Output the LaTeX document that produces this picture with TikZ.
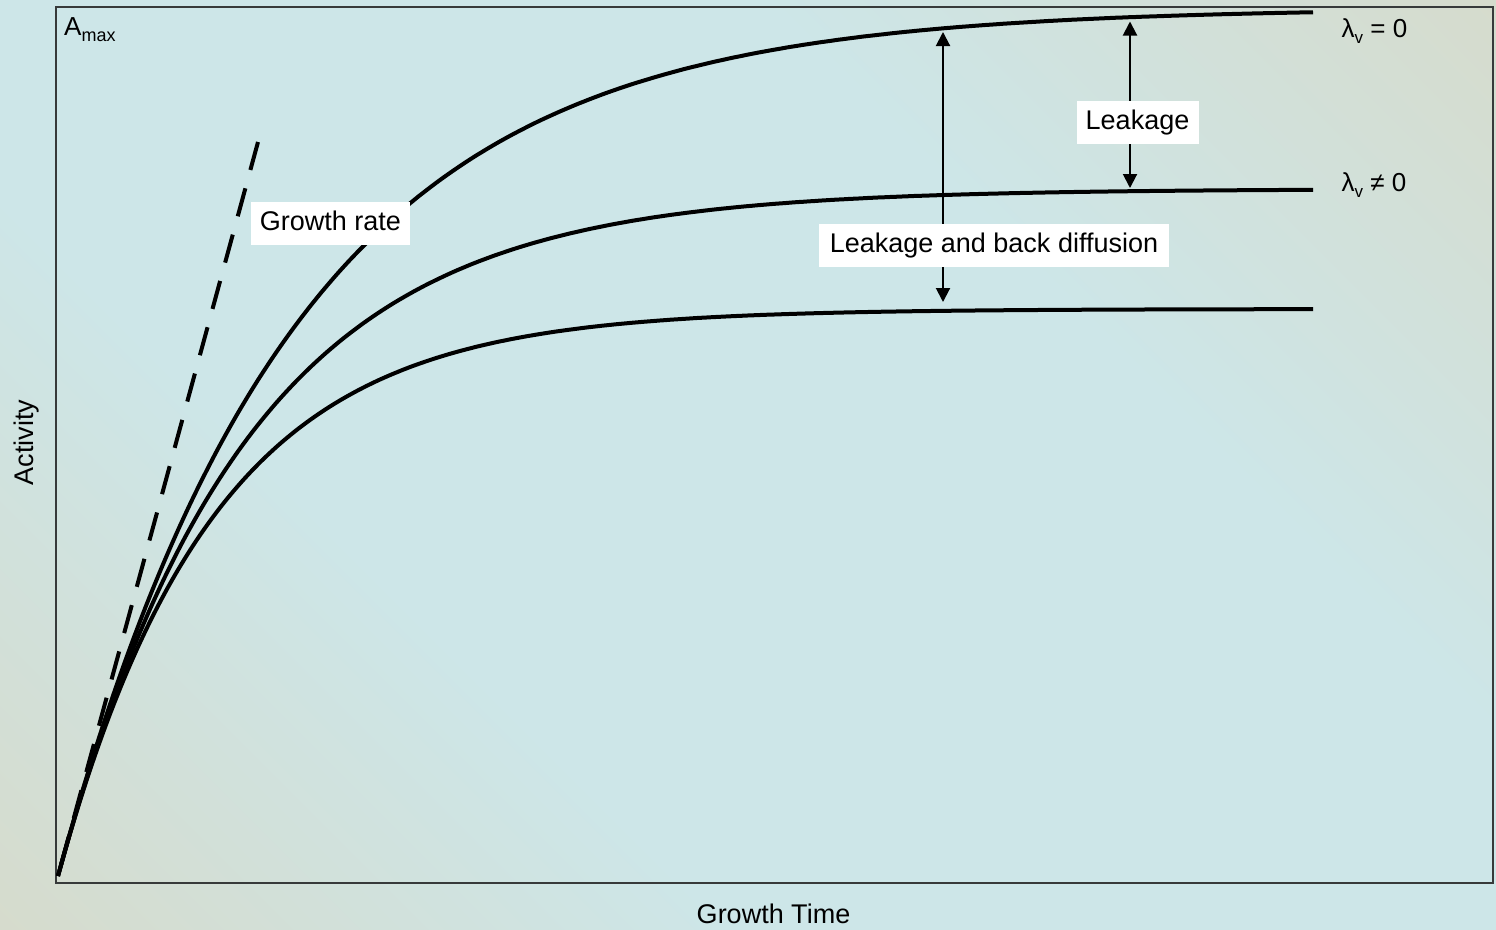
\documentclass[tikz,border=0pt]{standalone}
\usepackage{fontspec}
\setmainfont{Liberation Sans}
\usetikzlibrary{arrows.meta}
\definecolor{bgcyan}{RGB}{205,230,232}
\definecolor{bgbeige}{RGB}{214,219,204}
\definecolor{framegray}{RGB}{55,58,58}
\pgfdeclareverticalshading{bgshade}{100bp}{color(0bp)=(bgbeige); color(14bp)=(bgbeige); color(36bp)=(bgcyan); color(64bp)=(bgcyan); color(86bp)=(bgbeige); color(100bp)=(bgbeige)}
\tikzset{
  txt/.style={font=\fontsize{27}{32}\selectfont, inner sep=0pt},
  labelbox/.style={fill=white, font=\fontsize{27}{32}\selectfont, inner xsep=9pt, inner ysep=8.25pt, text height=20pt, text depth=6.5pt},
  curve/.style={line width=4pt, line cap=butt, line join=round},
  guideline/.style={line width=4pt, dash pattern=on 29pt off 19pt},
  dimarrow/.style={line width=2pt, {Triangle[width=14pt,length=14pt]}-{Triangle[width=14pt,length=14pt]}},
  lamlabel/.style={anchor=base west, inner sep=0pt, font=\fontsize{26}{30}\selectfont}
}
\begin{document}
\begin{tikzpicture}[x=1pt,y=-1pt]
\useasboundingbox (0,0) rectangle (1496,929);
\shade[shading=bgshade, shading angle=-45] (0,0) rectangle (1496,929);
% plot frame
\draw[framegray, line width=2pt] (56,7) rectangle (1492.5,882.5);
% curves
\draw[curve] plot[domain=58:1313, samples=220, smooth] (\x, {876-868*(1-exp(-(\x-58)/236))});
\draw[curve] plot[domain=58:1313, samples=220, smooth] (\x, {876-687*(1-exp(-(\x-58)/187))});
\draw[curve] plot[domain=58:1313, samples=220, smooth] (\x, {876-567*(1-exp(-(\x-58)/154.5))});
% initial slope (dashed)
\coordinate (gtop) at (258,142);
\coordinate (gbot) at (58,876);
\draw[guideline] (gtop) -- (gbot);
% arrows
\coordinate (lktop) at (1130,21.5);
\coordinate (lkbot) at (1130,188);
\coordinate (lbtop) at (943,32);
\coordinate (lbbot) at (943,302);
\draw[dimarrow] (lktop) -- (lkbot);
\draw[dimarrow] (lbtop) -- (lbbot);
% label boxes
\node[labelbox, minimum width=122pt] (leak) at (1137.5,122.5) {Leakage};
\node[labelbox, minimum width=350pt] (lbd) at (994,245.5) {Leakage and back diffusion};
\node[labelbox, minimum width=159pt] (grate) at (330.5,223.5) {Growth rate};
% lambda labels
\node[lamlabel] (lam0) at (1341.5,37.7) {λ\raisebox{-5.5pt}{\fontsize{17}{20}\selectfont v} = 0};
\node[lamlabel] (lamn) at (1341.5,191.5) {λ\raisebox{-5.5pt}{\fontsize{17}{20}\selectfont v} ≠ 0};
% Amax
\node[anchor=base west, inner sep=0pt] (amax) at (64,35) {\fontsize{26}{30}\selectfont A\raisebox{-6.5pt}{\fontsize{18}{21}\selectfont max}};
% axis labels
\node[txt, anchor=base] (xlab) at (773.5,923.3) {Growth Time};
\node[txt, anchor=base, rotate=90] (ylab) at (33.3,442.5) {Activity};
\end{tikzpicture}
\end{document}
